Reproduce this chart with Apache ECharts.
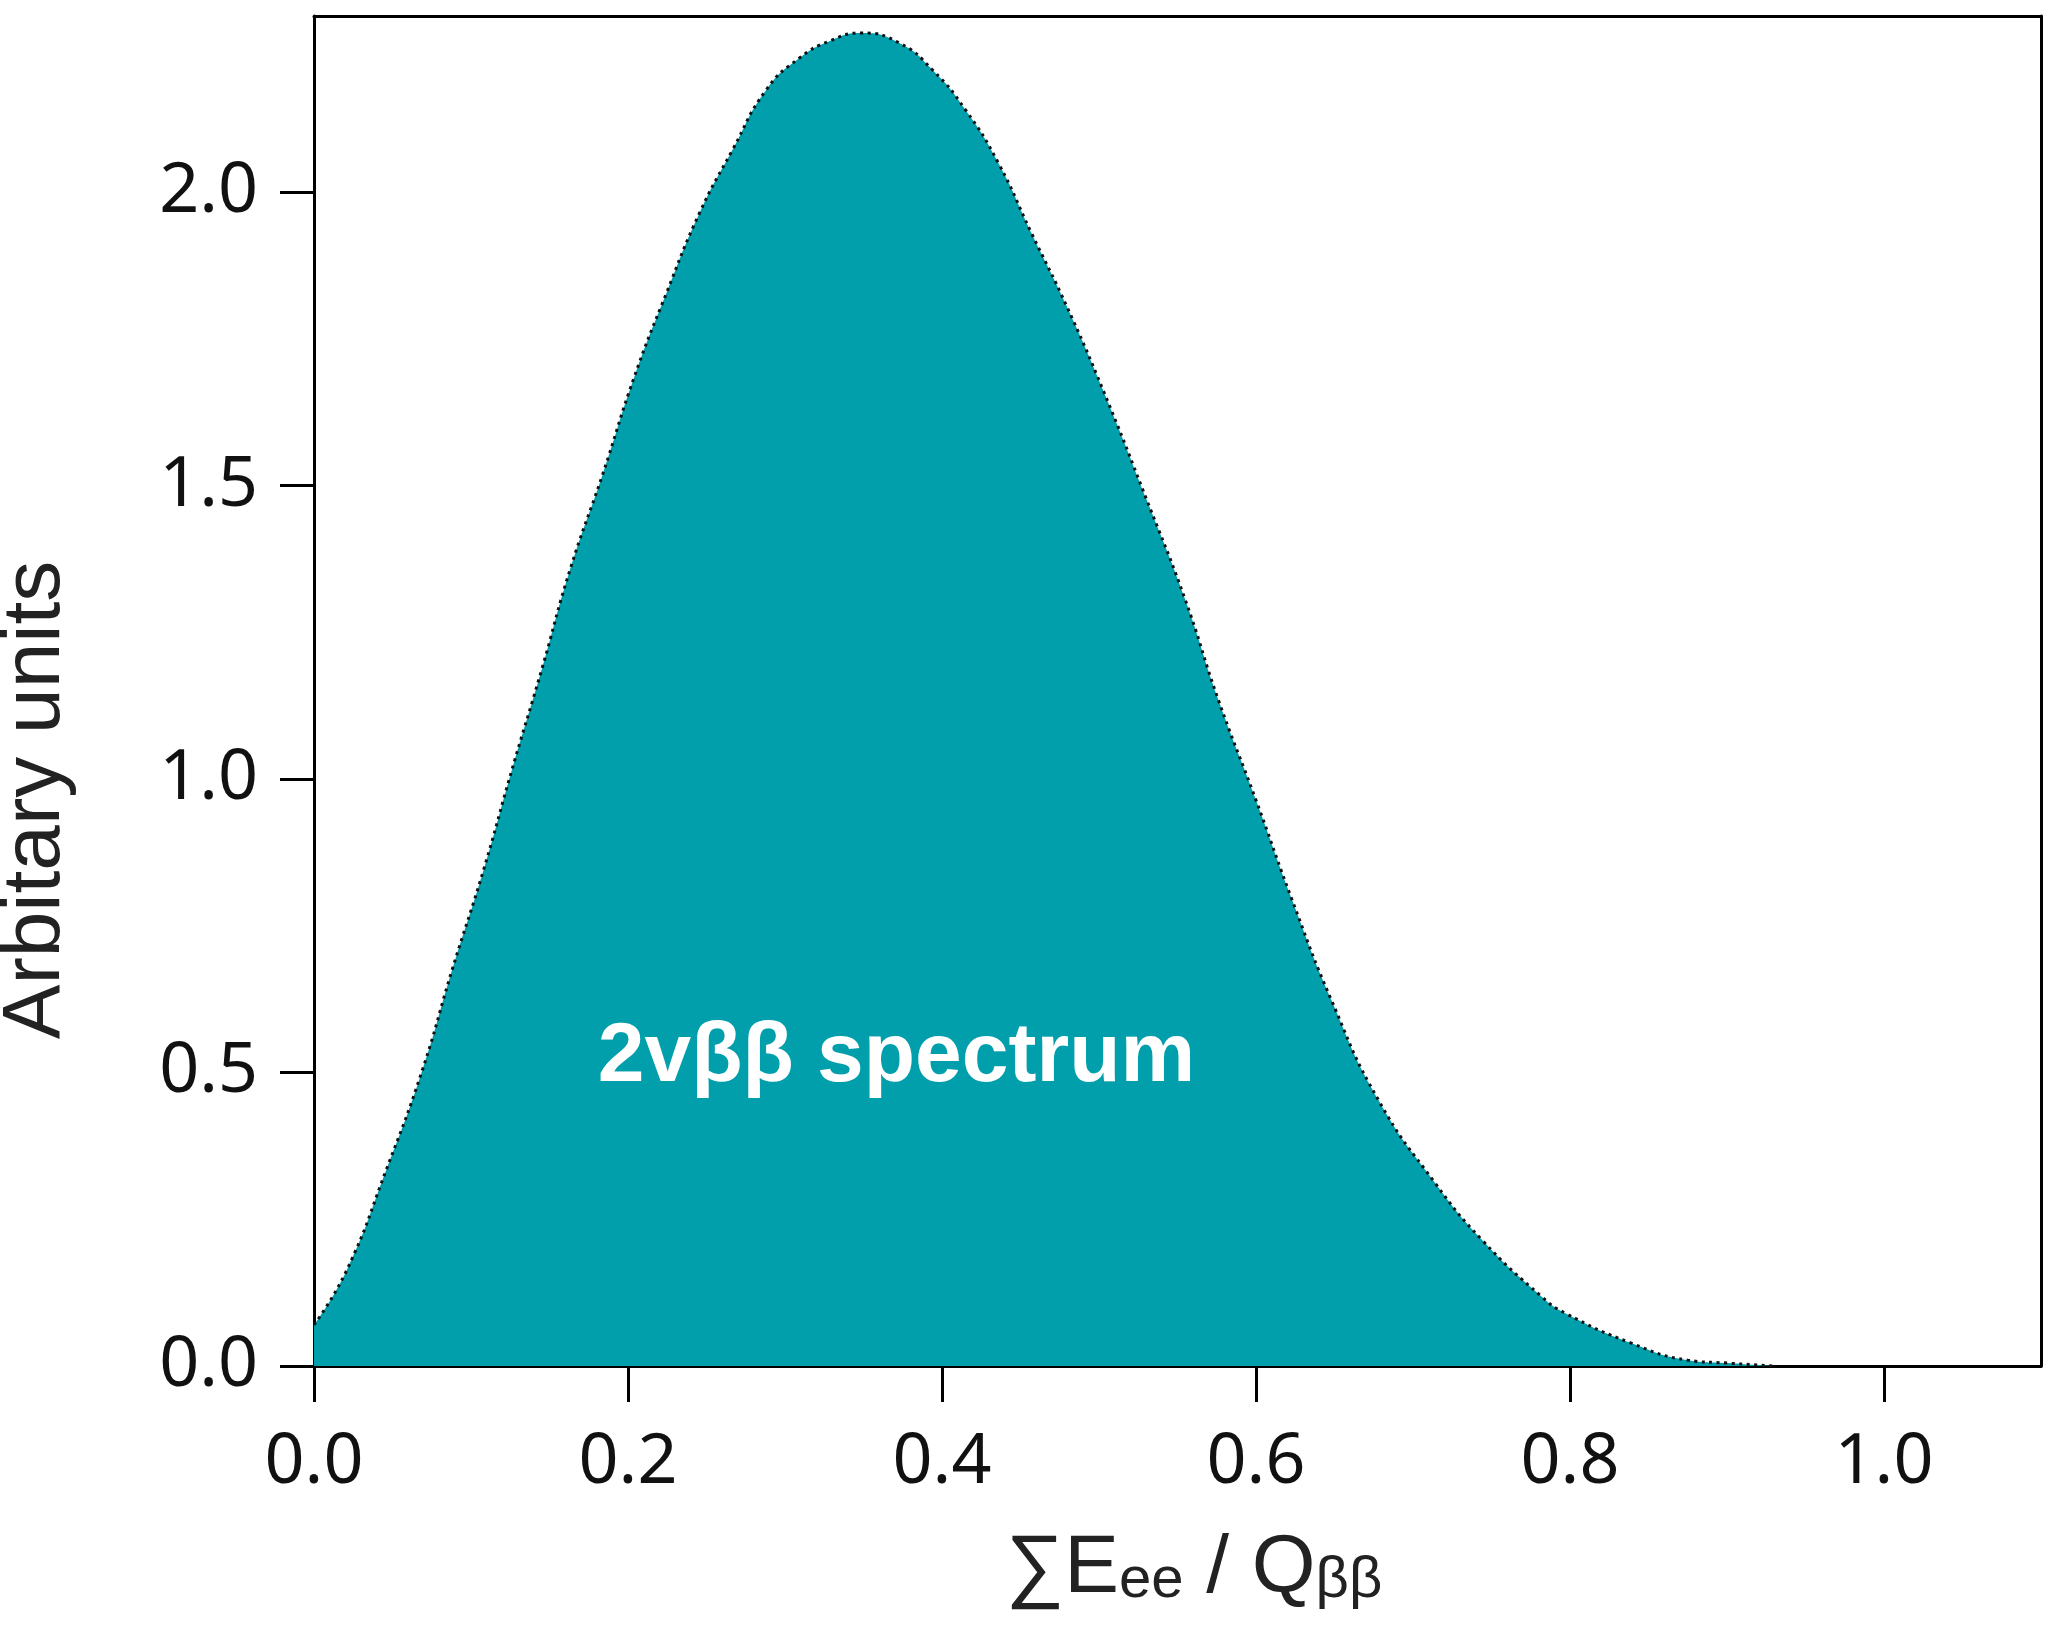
<!DOCTYPE html>
<html>
<head>
<meta charset="utf-8">
<script src="https://cdn.jsdelivr.net/npm/echarts@6/dist/echarts.min.js"></script>
<style>
  html, body { margin: 0; padding: 0; background: #ffffff; }
  #chart { width: 2049px; height: 1628px; }
</style>
</head>
<body>
<div id="chart"></div>
<script>
// ---- data ----
const energyFraction = [0, 0.021, 0.046, 0.069, 0.088, 0.108, 0.126, 0.145, 0.163, 0.184, 0.204, 0.2245, 0.2455, 0.2666, 0.288, 0.309, 0.329, 0.3486, 0.3728, 0.394, 0.415, 0.436, 0.457, 0.479, 0.503, 0.5305, 0.555, 0.576, 0.600, 0.623, 0.648, 0.678, 0.714, 0.744, 0.782, 0.797, 0.839, 0.875, 0.90, 0.93];
const spectrumValues = [0.07, 0.164, 0.334, 0.504, 0.675, 0.845, 1.015, 1.186, 1.356, 1.52, 1.685, 1.828, 1.964, 2.072, 2.174, 2.228, 2.258, 2.271, 2.254, 2.208, 2.140, 2.049, 1.930, 1.808, 1.66, 1.475, 1.305, 1.135, 0.964, 0.794, 0.6235, 0.453, 0.312, 0.2146, 0.118, 0.090, 0.039, 0.010, 0.005, 0.0];
const xTickValues = [0, 0.2, 0.4, 0.6, 0.8, 1.0];
const yTickValues = [0, 0.5, 1.0, 1.5, 2.0];
const annotationText = ['2vββ spectrum'];
const annotationPos = [0.371, 0.525];
const yAxisTitle = 'Arbitary units';

const chart = echarts.init(document.getElementById('chart'), null, { renderer: 'canvas' });

const tickFont = '"Noto Sans", "DejaVu Sans", sans-serif';
const titleFont = '"Liberation Sans", Arial, sans-serif';
const fillColor = '#019FAC';

const option = {
  backgroundColor: '#ffffff',
  animation: false,
  grid: { left: 314, right: 8, top: 16, bottom: 262, containLabel: false },
  xAxis: [{
    type: 'value', min: 0, max: 1.1, position: 'bottom',
    axisLine: { show: true, onZero: false, lineStyle: { color: '#000', width: 3 } },
    axisTick: { show: true, inside: false, length: 36, customValues: xTickValues, lineStyle: { color: '#000', width: 3 } },
    axisLabel: { show: true, customValues: xTickValues, margin: 62, color: '#111', fontSize: 70, fontFamily: tickFont,
      formatter: v => v.toFixed(1) },
    splitLine: { show: false }
  }, {
    type: 'value', min: 0, max: 1.1, position: 'top',
    axisLine: { show: true, onZero: false, lineStyle: { color: '#000', width: 3 } },
    axisTick: { show: false }, axisLabel: { show: false }, splitLine: { show: false }
  }],
  yAxis: [{
    type: 'value', min: 0, max: 2.3, position: 'left',
    axisLine: { show: true, onZero: false, lineStyle: { color: '#000', width: 3 } },
    axisTick: { show: true, inside: false, length: 34, customValues: yTickValues, lineStyle: { color: '#000', width: 3 } },
    axisLabel: { show: true, customValues: yTickValues, margin: 56, color: '#111', fontSize: 70, fontFamily: tickFont,
      formatter: v => v.toFixed(1) },
    splitLine: { show: false }
  }, {
    type: 'value', min: 0, max: 2.3, position: 'right',
    axisLine: { show: true, onZero: false, lineStyle: { color: '#000', width: 3 } },
    axisTick: { show: false }, axisLabel: { show: false }, splitLine: { show: false }
  }],
  series: [{
    type: 'line',
    xAxisIndex: 0, yAxisIndex: 0,
    data: energyFraction.map((x, i) => [x, spectrumValues[i]]),
    smooth: 0.5,
    symbol: 'none',
    lineStyle: { color: '#111', width: 3, type: [3, 4.5], cap: 'butt' },
    areaStyle: { color: fillColor, opacity: 1 },
    z: 2
  }, {
    type: 'scatter',
    xAxisIndex: 0, yAxisIndex: 0,
    data: [annotationPos],
    symbolSize: 1,
    itemStyle: { color: fillColor, opacity: 1 },
    silent: true,
    label: {
      show: true, position: 'inside', formatter: () => annotationText[0],
      color: '#ffffff', opacity: 1, fontSize: 84, fontWeight: 'bold', fontFamily: titleFont
    },
    emphasis: { disabled: true },
    z: 5
  }],
  graphic: [{
    type: 'text',
    x: 36, y: 800,
    rotation: Math.PI / 2,
    style: {
      text: yAxisTitle,
      font: '82px "Liberation Sans", Arial, sans-serif',
      fill: '#222',
      align: 'center', verticalAlign: 'middle'
    }
  }, {
    type: 'text',
    x: 1194, y: 1568,
    style: {
      text: '{m|∑E}{s|ee}{m| / Q}{s|ββ}',
      align: 'center', verticalAlign: 'middle',
      fill: '#222',
      rich: {
        m: { fontSize: 82, lineHeight: 84, fontFamily: titleFont, fill: '#222', verticalAlign: 'bottom' },
        s: { fontSize: 58, lineHeight: 50, fontFamily: titleFont, fill: '#222', verticalAlign: 'bottom' }
      }
    }
  }]
};

chart.setOption(option);
</script>
</body>
</html>
